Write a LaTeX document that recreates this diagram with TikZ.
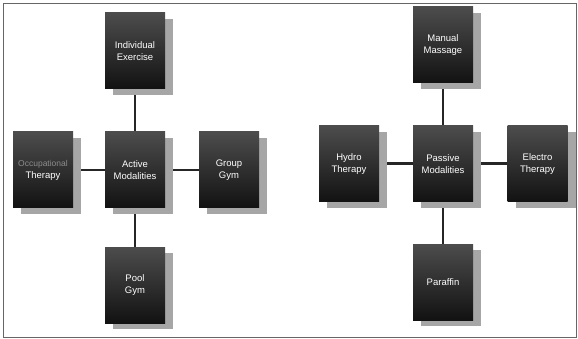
\documentclass[tikz,border=0pt]{standalone}
\usepackage{fontspec}
\setmainfont{Liberation Sans}
\usetikzlibrary{shadows,backgrounds}
\tikzset{
  modbox/.style={rectangle, minimum width=60pt, minimum height=76pt, inner sep=1pt,
    top color=black!70, bottom color=black!93, draw=none,
    text=white, align=center, font=\fontsize{9.5}{12}\selectfont,
    drop shadow={shadow xshift=8pt, shadow yshift=-6pt, fill=black!35, opacity=1}},
  link/.style={draw=black!85, line width=2pt},
}
\begin{document}
\begin{tikzpicture}[x=1pt,y=-1pt]
\useasboundingbox (0,0) rectangle (578,339);
\draw[black!60, line width=0.8pt] (3,3) rectangle (576,337);
% left diagram
\node[modbox] (ac) at (135,170) {Active\\Modalities};
\node[modbox] (at) at (135,51) {Individual\\Exercise};
\node[modbox] (al) at (43,170) {\textcolor{black!45}{\fontsize{8.5}{12}\selectfont Occupational}\\Therapy};
\node[modbox] (ar) at (229,170) {Group\\Gym};
\node[modbox] (ab) at (135,285) {Pool\\Gym};
% right diagram
\node[modbox] (pc) at (443,164) {Passive\\Modalities};
\node[modbox] (pt) at (443,45) {Manual\\Massage};
\node[modbox] (pl) at (349,164) {Hydro\\Therapy};
\node[modbox] (pr) at (537.5,164) {Electro\\Therapy};
\node[modbox] (pb) at (443,282) {Paraffin};
\begin{pgfonlayer}{background}
\draw[link] (at) -- (ac);
\draw[link] (al) -- (ac);
\draw[link] (ar) -- (ac);
\draw[link] (ab) -- (ac);
\draw[link] (pt) -- (pc);
\draw[link, line width=3pt] (pl) -- (pc);
\draw[link, line width=3pt] (pr) -- (pc);
\draw[link] (pb) -- (pc);
\end{pgfonlayer}
\end{tikzpicture}
\end{document}
